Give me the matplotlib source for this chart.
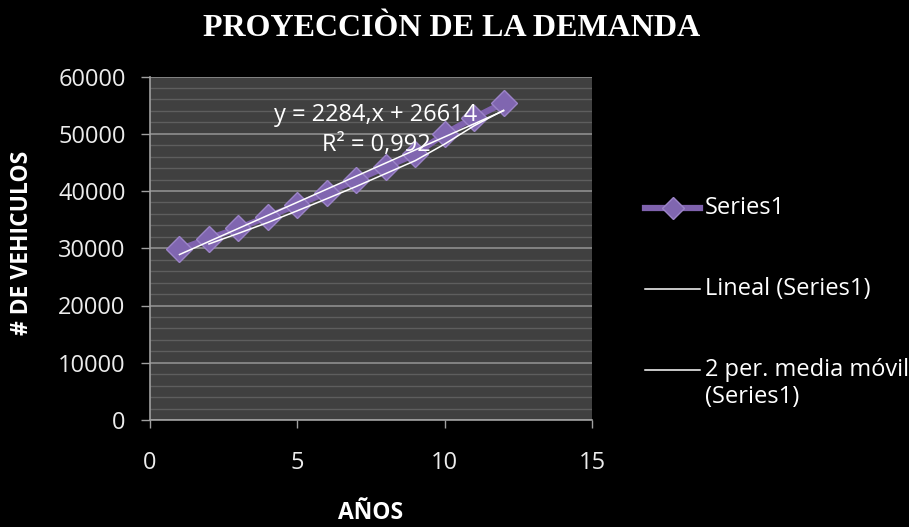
import numpy as np
import pandas as pd
import matplotlib
matplotlib.use("Agg")
import matplotlib.pyplot as plt
from matplotlib.ticker import MultipleLocator
from matplotlib.lines import Line2D

# Demand data: vehicles per year
anios = [1, 2, 3, 4, 5, 6, 7, 8, 9, 10, 11, 12]
vehiculos = [29800, 31700, 33500, 35500, 37600, 39700, 41900, 44200, 46400, 50000, 52800, 55400]

# Linear trend reported for the series
pendiente = 2284
intercepto = 26614
r2 = 0.992

x_ticks = [0, 5, 10, 15]
y_ticks = [0, 10000, 20000, 30000, 40000, 50000, 60000]

legend_labels = ["Series1", "Lineal (Series1)", "2 per. media móvil\n(Series1)"]

W, H = 909, 527
fig = plt.figure(figsize=(W / 100, H / 100), dpi=100, facecolor="black")
ax = fig.add_axes([150 / W, 1 - 420 / H, (592 - 150) / W, (420 - 76.5) / H])
ax.set_facecolor("#404040")

sans = ["Open Sans", "DejaVu Sans"]
txt_color = "#ececec"
fs = 17

# Gridlines
ax.yaxis.set_minor_locator(MultipleLocator(2000))
ax.grid(axis="y", which="major", color="#8f8f8f", linewidth=1.2, zorder=0)
ax.grid(axis="y", which="minor", color="#5e5e5e", linewidth=1.0, zorder=0)
ax.set_axisbelow(True)
ax.tick_params(axis="y", which="minor", length=0)

# Series with markers
purple = "#7f62ad"
marker_style = dict(marker="D", markerfacecolor="#8066b0", markeredgecolor="#9c84c8",
                    markeredgewidth=1.0)
ax.plot(anios, vehiculos, color=purple, linewidth=4.5, markersize=13, zorder=3,
        solid_capstyle="round", **marker_style)

# Linear trend line
xs = np.array([anios[0], anios[-1]], dtype=float)
ax.plot(xs, pendiente * xs + intercepto, color="white", linewidth=1.1, zorder=4)

# 2-period moving average
media = pd.Series(vehiculos).rolling(2).mean()
ax.plot(anios[1:], media.values[1:], color="white", linewidth=1.1, zorder=4)

# Equation and R² annotation
ax.text(7.67, 53300, f"y = {pendiente},x + {intercepto}", color="white", fontsize=fs,
        family=sans, ha="center", va="center", zorder=5)
ax.text(7.67, 48100, f"R² = {str(r2).replace('.', ',')}", color="white", fontsize=fs,
        family=sans, ha="center", va="center", zorder=5)

ax.set_xlim(0, 15)
ax.set_ylim(0, 60000)
ax.set_xticks(x_ticks)
ax.set_yticks(y_ticks)
ax.set_xticklabels([str(v) for v in x_ticks], fontsize=fs, color=txt_color, family=sans)
ax.set_yticklabels([str(v) for v in y_ticks], fontsize=fs, color=txt_color, family=sans)
ax.tick_params(axis="x", which="major", direction="out", length=6, width=1,
               color="#a0a0a0", pad=16)
ax.tick_params(axis="y", which="major", direction="out", length=6.5, width=1,
               color="#a0a0a0", pad=11)

for side in ["top", "right"]:
    ax.spines[side].set_visible(False)
for side in ["left", "bottom"]:
    ax.spines[side].set_color("#a0a0a0")
    ax.spines[side].set_linewidth(1.2)

# Axis titles
fig.text(22 / W, 1 - 243 / H, "# DE VEHICULOS", rotation=90, color="white",
         fontsize=16.5, fontweight="bold", family=sans, ha="center", va="center")
fig.text(371 / W, 1 - 513 / H, "AÑOS", color="white", fontsize=16.5,
         fontweight="bold", family=sans, ha="center", va="center")

# Chart title
fig.text(452 / W, 1 - 28 / H, "PROYECCIÒN DE LA DEMANDA", color="white",
         fontsize=23, fontweight="bold", family=["Liberation Serif", "DejaVu Serif"],
         ha="center", va="center")

# Legend: handle aligned with the first line of each entry
row_y = [208, 289, 370]
line_step = 27
hx0, hx1, tx = 645, 700, 705
for i, (label, yy) in enumerate(zip(legend_labels, row_y)):
    yf = 1 - yy / H
    if i == 0:
        fig.add_artist(Line2D([hx0 / W, hx1 / W], [yf, yf], color=purple, linewidth=4.5,
                              transform=fig.transFigure))
        fig.add_artist(Line2D([(hx0 + hx1) / 2 / W], [yf], color=purple, markersize=11,
                              transform=fig.transFigure, **marker_style))
    else:
        fig.add_artist(Line2D([hx0 / W, hx1 / W], [yf, yf], color="white", linewidth=1.1,
                              transform=fig.transFigure))
    n_lines = label.count("\n") + 1
    y_text = yy + line_step * (n_lines - 1) / 2
    fig.text(tx / W, 1 - y_text / H, label, color="white", fontsize=fs, family=sans,
             ha="left", va="center", linespacing=1.15)

fig.savefig("out.png", dpi=100, facecolor="black")
